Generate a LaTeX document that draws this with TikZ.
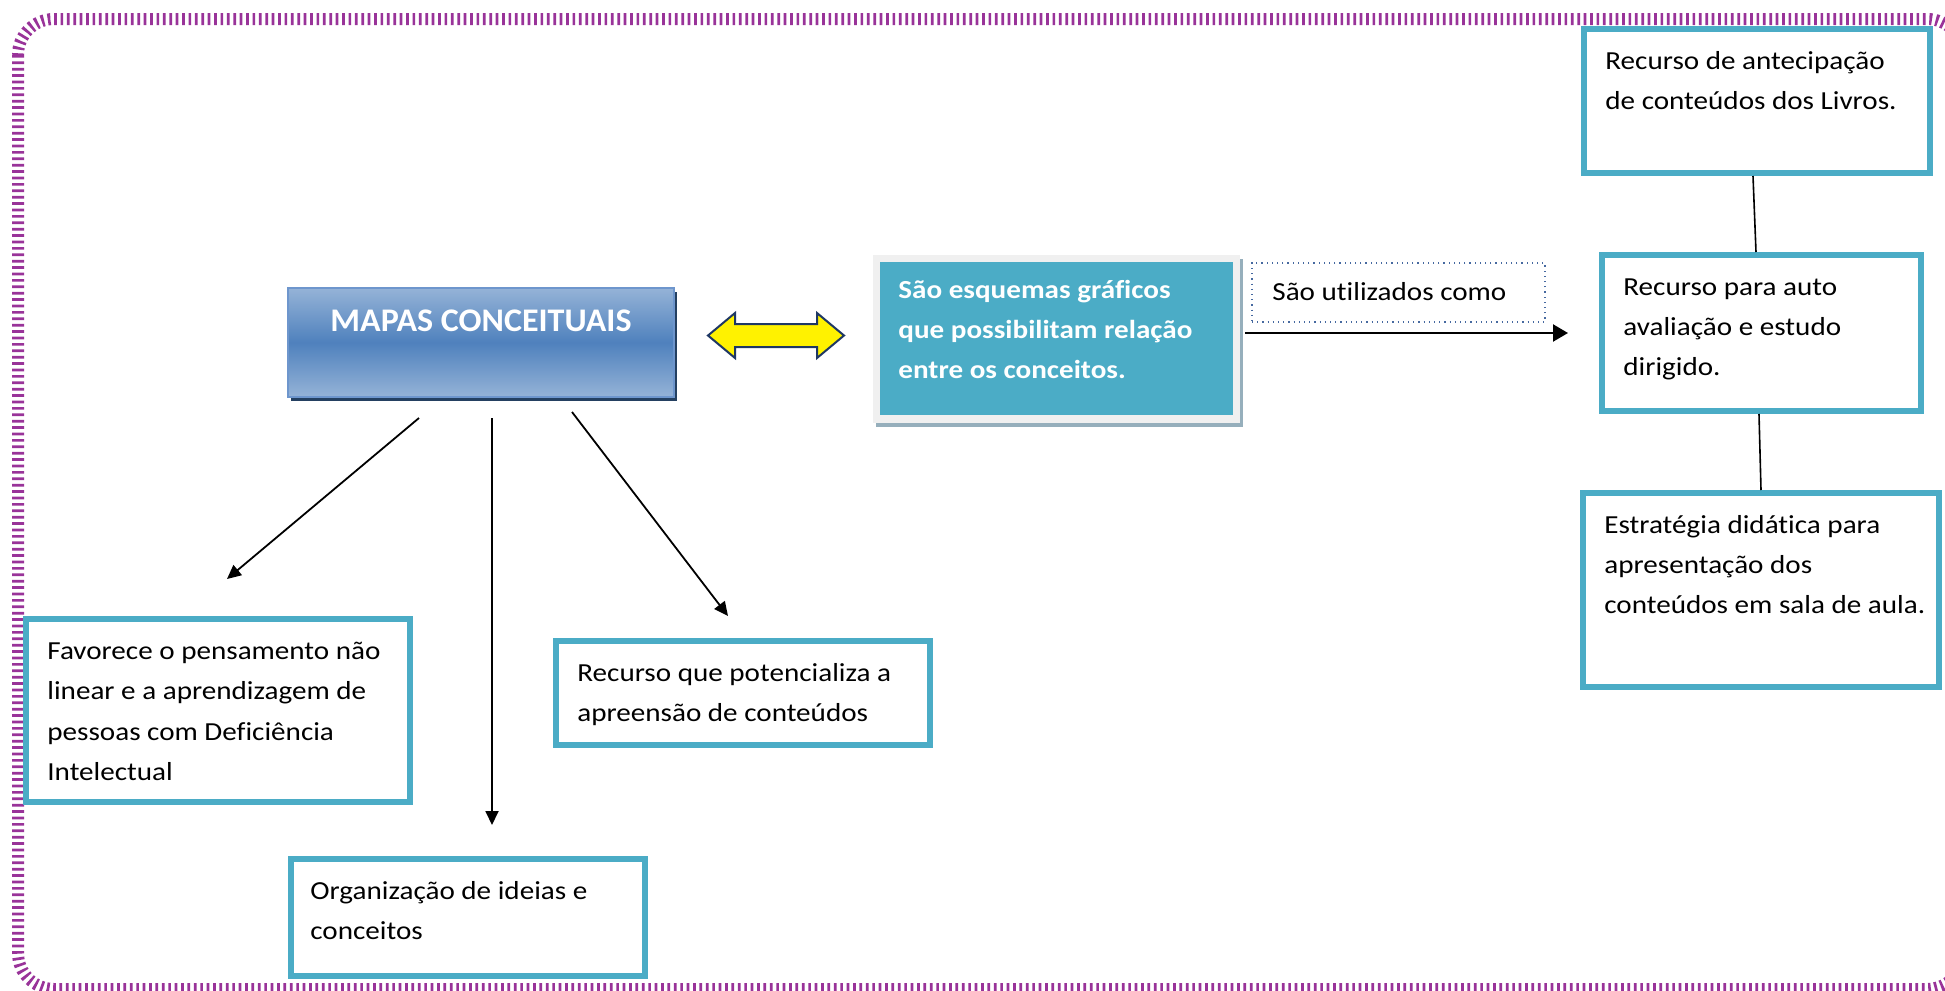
\documentclass[tikz,border=0pt]{standalone}
\usepackage{fontspec}
\setmainfont{Carlito}[FakeStretch=1.12, Ligatures=NoCommon]
\newfontfamily\mapfont{Carlito}[FakeStretch=1.03, Ligatures=NoCommon]
\usetikzlibrary{arrows.meta,shadows}
\definecolor{tealbox}{RGB}{75,172,198}
\definecolor{mapLight}{RGB}{149,179,215}
\definecolor{mapMid}{RGB}{79,129,189}
\definecolor{mapShadow}{RGB}{36,64,97}
\definecolor{mapEdge}{RGB}{110,150,205}
\definecolor{purp}{RGB}{153,51,153}
\definecolor{frameGray}{RGB}{240,240,240}
\definecolor{frameShadow}{RGB}{150,175,188}
\definecolor{dotBlue}{RGB}{70,105,160}
\definecolor{navyedge}{RGB}{31,56,100}
\newcommand{\boxtext}[1]{\parbox[t]{240pt}{\raggedright #1}}
\begin{document}
\begin{tikzpicture}[x=0.5pt,y=-0.5pt,
  tbox/.style={draw=tealbox, line width=3pt, fill=white, rectangle, inner sep=0pt},
  btxt/.style={anchor=base west, inner sep=0pt, font=\fontsize{13}{20}\selectfont},
  arr/.style={-{Triangle[length=7pt,width=6.5pt]}, line width=0.9pt},
  link/.style={line width=0.8pt}]
\fill[white] (0,0) rectangle (1945,991);
\useasboundingbox (0,0) rectangle (1945,991);
% page border
\begin{scope}
\clip (0,0) rectangle (1945,991);
\draw[purp, line width=6pt, dash pattern=on 1.35pt off 1.85pt, rounded corners=18pt] (18,19) rectangle (1963,989);
\end{scope}
% main concept
\node[rectangle, inner sep=0pt, minimum width=193pt, minimum height=54.5pt, draw=mapEdge, line width=0.6pt,
  top color=mapLight, bottom color=mapLight, middle color=mapMid,
  drop shadow={shadow xshift=1.5pt, shadow yshift=-2pt, fill=mapShadow, opacity=1}] (mapas) at (481,342.5) {};
\node[anchor=base, text=white, inner sep=0pt, font=\mapfont\fontsize{16.5}{20}\selectfont\bfseries] (mapastxt) at (481,331) {MAPAS CONCEITUAIS};
% double arrow
\draw[fill=yellow, draw=navyedge, line width=1pt, line join=miter] (708,335.5) -- (735,313) -- (735,324) -- (817,324) -- (817,313) -- (844,335.5) -- (817,358) -- (817,347) -- (735,347) -- (735,358) -- cycle;
% definition box
\node[rectangle, inner sep=0pt, minimum width=183.5pt, minimum height=84pt, fill=frameGray,
  drop shadow={shadow xshift=1.5pt, shadow yshift=-2pt, fill=frameShadow, opacity=1}] (esqframe) at (1056.5,339) {};
\node[rectangle, inner sep=0pt, minimum width=176.5pt, minimum height=76.5pt, fill=tealbox] (esq) at (1056.5,338.5) {};
\node[btxt, text=white, font=\fontsize{13}{20}\selectfont\bfseries] (esqtxt) at (898,298) {\boxtext{São esquemas gráficos\\que possibilitam relação\\entre os conceitos.}};
% link label
\node[rectangle, inner sep=0pt, minimum width=146.5pt, minimum height=29.5pt, draw=dotBlue, dotted, line width=0.6pt] (uso) at (1398.5,292.5) {};
\node[btxt] (usotxt) at (1272,300) {São utilizados como};
\coordinate (h1) at (1245,333);
\coordinate (h2) at (1568,333);
\draw[-{Triangle[length=7.5pt,width=8.5pt]}, line width=1.1pt] (h1) -- (h2);
% right column
\node[tbox, minimum width=173pt, minimum height=72pt] (boxA) at (1757,101) {};
\node[btxt] (txtA) at (1605,69) {\boxtext{Recurso de antecipação\\de conteúdos dos Livros.}};
\node[tbox, minimum width=159.5pt, minimum height=78pt] (boxB) at (1761.5,333) {};
\node[btxt] (txtB) at (1623,295) {\boxtext{Recurso para auto\\avaliação e estudo\\dirigido.}};
\node[tbox, minimum width=178pt, minimum height=97pt] (boxC) at (1761,590) {};
\node[btxt] (txtC) at (1604,533) {\boxtext{Estratégia didática para\\apresentação dos\\conteúdos em sala de aula.}};
\draw[link] ([xshift=-2pt]boxA.south) -- ([xshift=-2.75pt]boxB.north);
\draw[link] ([xshift=-1.25pt]boxB.south) -- (boxC.north);
% bottom boxes
\node[tbox, minimum width=192pt, minimum height=91.5pt] (boxD) at (218,710.5) {};
\node[btxt, font=\fontsize{13}{20.25}\selectfont] (txtD) at (47,659) {\boxtext{Favorece o pensamento não\\linear e a aprendizagem de\\pessoas com Deficiência\\Intelectual}};
\node[tbox, minimum width=177pt, minimum height=58.5pt] (boxE) at (468,917.5) {};
\node[btxt] (txtE) at (310,899) {\boxtext{Organização de ideias e\\conceitos}};
\node[tbox, minimum width=187pt, minimum height=52pt] (boxF) at (743,693) {};
\node[btxt] (txtF) at (577,681) {\boxtext{Recurso que potencializa a\\apreensão de conteúdos}};
% arrows from main concept
\coordinate (m1s) at (419,418);
\coordinate (m1e) at (227,579);
\coordinate (m2s) at (492,418);
\coordinate (m2e) at (492,825);
\coordinate (m3s) at (572,412);
\coordinate (m3e) at (728,616);
\draw[arr] (m1s) -- (m1e);
\draw[arr] (m2s) -- (m2e);
\draw[arr] (m3s) -- (m3e);
\end{tikzpicture}
\end{document}
